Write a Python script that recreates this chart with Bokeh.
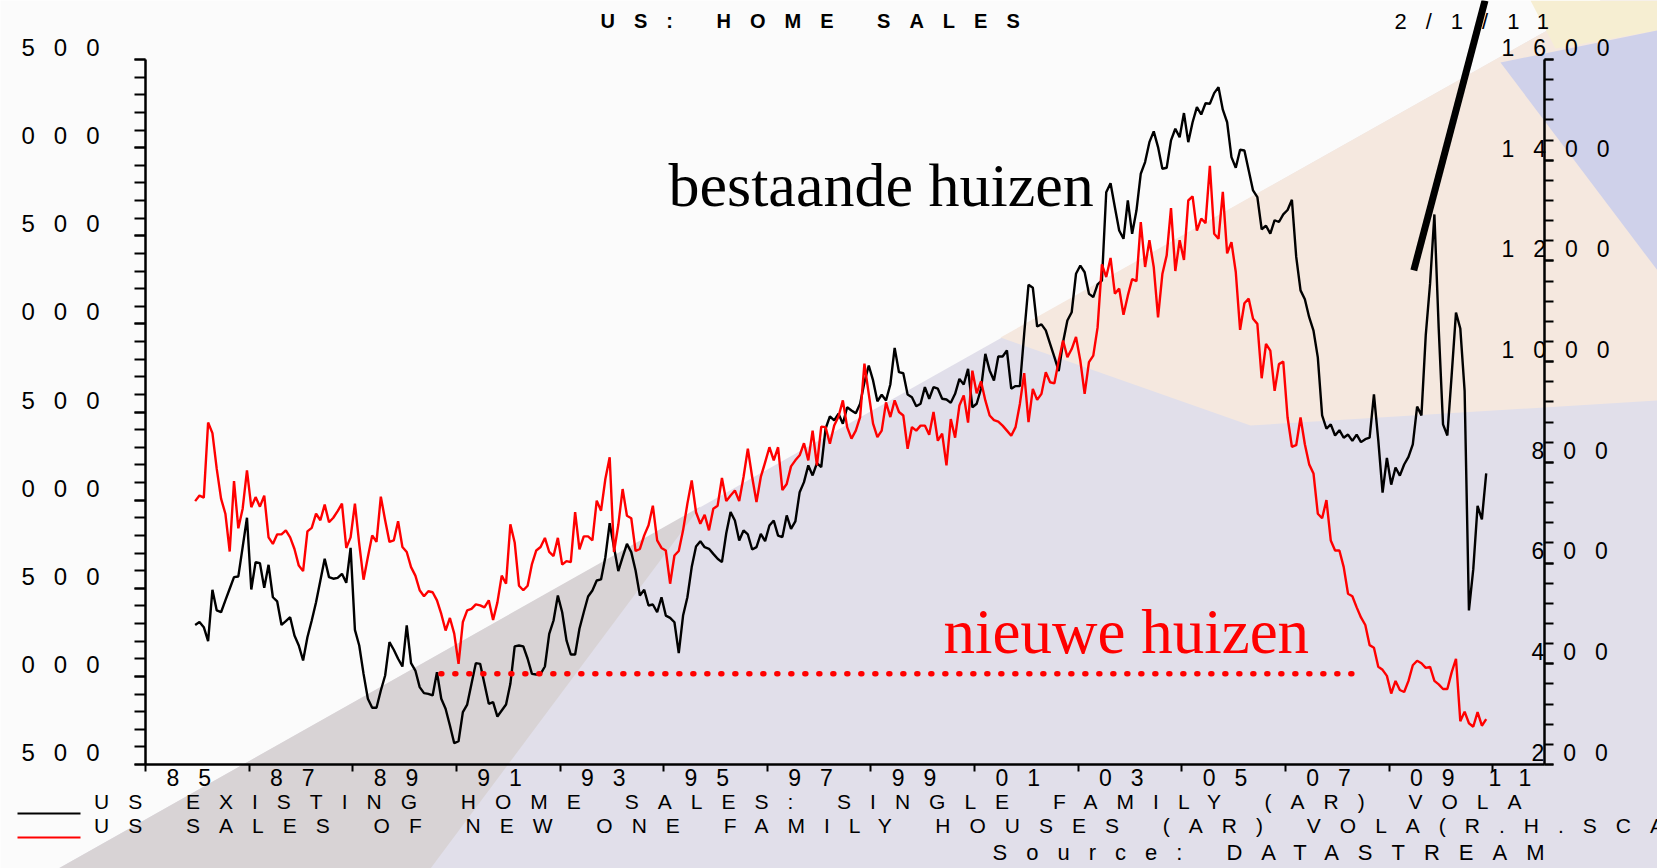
import numpy as np
from bokeh.plotting import figure
from bokeh.layouts import column
from bokeh.models import (Range1d, LinearAxis, FixedTicker, Label, Arrow,
                          PolyAnnotation, Legend, LegendItem)
from bokeh.embed import file_html
from bokeh.resources import INLINE

# ---------------- data (thousands, SAAR), monthly Dec 1985 .. Nov 2010 ----------------
FIRST_MONTH = 1985 + 11.5 / 12.0   # mid-December 1985

existing_single_family = [
    3292, 3308, 3279, 3200, 3491, 3374, 3364, 3431, 3497, 3563,
    3567, 3733, 3900, 3493, 3648, 3642, 3502, 3633, 3449, 3425,
    3292, 3313, 3336, 3232, 3175, 3090, 3222, 3317, 3421, 3544,
    3667, 3563, 3554, 3559, 3582, 3531, 3729, 3264, 3175, 3014,
    2873, 2822, 2822, 2920, 3005, 3194, 3151, 3100, 3056, 3289, 3075,
    3033, 2939, 2905, 2901, 2892, 3024, 2873, 2816, 2721, 2621,
    2632, 2797, 2840, 2958, 3075, 3071, 2958, 2844, 2854, 2772,
    2806, 2840, 2958, 3170, 3175, 3170, 3100, 3014, 3011, 3014,
    3056, 3241, 3317, 3459, 3364, 3204, 3124, 3124, 3270, 3364,
    3453, 3487, 3544, 3550, 3676, 3869, 3733, 3597, 3676, 3752,
    3705, 3601, 3459, 3491, 3402, 3408, 3364, 3449, 3345, 3332,
    3307, 3132, 3345, 3449, 3620, 3737, 3767, 3733, 3724, 3695,
    3667, 3648, 3812, 3932, 3884, 3771, 3828, 3805, 3720, 3733,
    3809, 3767, 3856, 3884, 3799, 3790, 3913, 3837, 3879, 4045,
    4102, 4197, 4140, 4210, 4187, 4405, 4475, 4452,
    4490, 4433, 4527, 4509, 4493, 4547, 4669, 4764, 4679, 4561,
    4598, 4565, 4656, 4864, 4726, 4720, 4599, 4584, 4533, 4547,
    4641, 4575, 4641, 4632, 4575, 4571, 4552, 4603, 4688, 4656,
    4745, 4527, 4547, 4632, 4830, 4736, 4679, 4815, 4815, 4849,
    4632, 4647, 4647, 4944, 5222, 5205, 4985, 4997, 4963,
    4887, 4811, 4732, 4896, 5019, 5066, 5284, 5331, 5293, 5171,
    5152, 5224, 5246, 5747, 5798, 5662, 5530, 5483, 5700, 5511,
    5643, 5852, 5918, 6031, 6092, 6003, 5880, 5886, 6041, 6107,
    6059, 6196, 6031, 6144, 6230, 6188, 6252, 6249, 6309, 6343,
    6215, 6144, 5946, 5886, 5988, 5984, 5870, 5757, 5719,
    5537, 5557, 5512, 5588, 5578, 5621, 5646, 5704, 5380, 5190,
    5140, 5038, 4962, 4810, 4481, 4405, 4430, 4367, 4397, 4354,
    4372, 4336, 4372, 4329, 4346, 4354, 4600, 4341, 4043, 4240,
    4088, 4185, 4139, 4202, 4245, 4316, 4531, 4481, 4936, 5228,
    5621, 4974, 4430, 4367, 4709, 5064, 4974, 4620, 3374, 3607,
    3967, 3891, 4152,
]

new_one_family = [
    723, 734, 730, 879, 858, 787, 728, 698, 623, 763,
    669, 708, 784, 711, 731, 712, 734, 651, 638, 657,
    657, 665, 651, 628, 595, 584, 663, 670, 698, 685,
    716, 681, 690, 703, 718, 630, 651, 718, 638, 567,
    612, 655, 642, 732, 685, 642, 645, 683, 632, 622, 592,
    575, 546, 534, 544, 542, 526, 499, 466, 491, 460,
    400, 483, 506, 509, 518, 516, 512, 526, 487, 522,
    575, 559, 677, 641, 555, 546, 555, 598, 625, 632,
    650, 622, 614, 650, 597, 604, 602, 701, 627, 653,
    653, 645, 724, 704, 767, 810, 622, 676, 747, 694,
    689, 624, 628, 655, 675, 714, 645, 630, 625, 559,
    615, 624, 665, 718, 764, 701, 678, 696, 665, 708,
    714, 769, 723, 734, 744, 723, 771, 827, 771, 721,
    771, 800, 830, 804, 830, 745, 757, 792, 804, 814,
    838, 804, 863, 794, 871, 870, 837, 873,
    891, 923, 870, 847, 863, 890, 996, 936, 877, 850,
    863, 919, 890, 923, 900, 893, 827, 870, 863, 873,
    873, 855, 900, 843, 857, 794, 886, 849, 913, 933,
    879, 982, 937, 961, 923, 893, 884, 881, 873, 863,
    853, 870, 916, 977, 880, 946, 924, 936, 979,
    959, 957, 1002, 1042, 1009, 1025, 1049, 1002, 936, 999,
    1012, 1068, 1193, 1168, 1206, 1135, 1145, 1093, 1131, 1164,
    1160, 1277, 1188, 1241, 1188, 1088, 1174, 1211, 1305, 1180,
    1241, 1202, 1320, 1328, 1260, 1284, 1275, 1389, 1254, 1244,
    1337, 1215, 1237, 1178, 1063, 1116, 1125, 1085,
    1075, 967, 1035, 1022, 942, 995, 1000, 889, 831, 834,
    889, 836, 796, 778, 698, 689, 725, 645, 625, 625,
    592, 539, 534, 512, 492, 477, 437, 432, 394, 388,
    376, 341, 366, 348, 344, 366, 397, 406, 401, 392,
    394, 366, 359, 350, 350, 383, 410, 286, 305, 282,
    275, 304, 277, 290,
]

# ---------------- axes definitions ----------------
X_AXIS = (1985.0, 2012.0)
LEFT_AXIS = (2500, 6500)
RIGHT_AXIS = (200, 1600)

LEFT_TICKS = [2500, 3000, 3500, 4000, 4500, 5000, 5500, 6000, 6500]
LEFT_LABEL_POS = [2568, 3068, 3568, 4068, 4568, 5068, 5568, 6068, 6568]   # labels sit above their ticks
LEFT_TICK_LABELS = ["500", "000", "500", "000", "500", "000", "500", "000", "500"]
LEFT_MINOR_STEP = 100
RIGHT_TICKS = [200, 400, 600, 800, 1000, 1200, 1400, 1600]
RIGHT_LABEL_POS_3 = [224, 424, 624, 824]
RIGHT_TICK_LABELS_3 = ["200", "400", "600", "800"]
RIGHT_LABEL_POS_4 = [1024, 1224, 1424, 1624]
RIGHT_TICK_LABELS_4 = ["1000", "1200", "1400", "1600"]
RIGHT_MINOR_STEP = 40
X_TICKS = [1985, 1987, 1989, 1991, 1993, 1995, 1997, 1999, 2001, 2003, 2005, 2007, 2009, 2011]
X_LABEL_POS = [1985.65, 1987.65, 1989.65, 1991.65, 1993.65, 1995.65, 1997.65,
               1999.65, 2001.65, 2003.65, 2005.65, 2007.65, 2009.65, 2011.15]
X_LABELS = ["85", "87", "89", "91", "93", "95", "97", "99", "01", "03", "05", "07", "09", "11"]

# dotted reference level (left scale) and its span
REF_LEVEL = 3015
REF_START, REF_END = 1990.70, 2008.31

TITLE = "US: HOME SALES"
DATE_TEXT = "2/1/11"
SOURCE = "Source: DATASTREAM"
LEGEND_LABELS = ["US EXISTING HOME SALES: SINGLE FAMILY (AR) VOLA",
                 "US SALES OF NEW ONE FAMILY HOUSES (AR) VOLA(R.H.SCALE)"]
ANNOT_EXISTING = "bestaande huizen"
ANNOT_NEW = "nieuwe huizen"

SANS = "Liberation Sans"
SERIF = "Liberation Serif"
RED = "#ff0000"
BG = "#fbfbfb"
TRACKING = "19px"      # the chart's wide-set lettering

# ---------------- geometry (canvas pixels) ----------------
W, H = 1657, 868
FL, FR, FT, FB = 145, 1544, 59, 764      # where the axes box sits on the canvas


def data_x(px):
    return X_AXIS[0] + (px - FL) / (FR - FL) * (X_AXIS[1] - X_AXIS[0])


def data_y(py):
    return LEFT_AXIS[0] + (FB - py) / (FB - FT) * (LEFT_AXIS[1] - LEFT_AXIS[0])


def data_yr(py):
    return RIGHT_AXIS[0] + (FB - py) / (FB - FT) * (RIGHT_AXIS[1] - RIGHT_AXIS[0])


months = FIRST_MONTH + np.arange(len(existing_single_family)) / 12.0

x_rng = Range1d(data_x(0), data_x(W))
y_rng = Range1d(data_y(H), data_y(0))
yr_rng = Range1d(data_yr(H), data_yr(0))

p = figure(width=W, height=H, output_backend="svg", toolbar_location=None, title=None,
           x_range=x_rng, y_range=y_rng,
           min_border_left=0, min_border_right=0, min_border_top=0, min_border_bottom=0,
           background_fill_color=BG, border_fill_color=BG)
p.outline_line_color = None
p.xgrid.visible = False
p.ygrid.visible = False
p.extra_y_ranges = {"right": yr_rng}

# ---------------- faded background decoration ----------------
BG_SHAPES = [
    ("#e1dfea", [(58, 868), (1600, 0), (1657, 0), (1657, 868)]),
    ("#f5e8df", [(1000, 337), (1600, 0), (1657, 0), (1657, 400), (1250, 425)]),
    ("#d8d3d5", [(58, 868), (700, 506), (430, 868)]),
    ("#f6eed2", [(1530, 0), (1657, 0), (1657, 30), (1555, 48)]),
    ("#cfd1ea", [(1500, 62), (1657, 30), (1657, 270)]),
]
for color, pts in BG_SHAPES:
    p.add_layout(PolyAnnotation(xs=[data_x(a) for a, b in pts], ys=[data_y(b) for a, b in pts],
                                fill_color=color, fill_alpha=1.0, line_alpha=0, level="underlay"))

# ---------------- series ----------------
r_exist = p.line(months, existing_single_family, line_color="black", line_width=2.4)
r_new = p.line(months, new_one_family, line_color=RED, line_width=2.4, y_range_name="right")

p.line([REF_START, REF_END], [REF_LEVEL, REF_LEVEL], line_color=RED, line_width=5.5,
       line_dash="1 13", line_cap="round")

# ---------------- axes (fixed on the axes box) ----------------
def style_ticks(ax, out):
    ax.axis_line_width = 2.5
    ax.major_tick_line_width = 2
    ax.minor_tick_line_width = 2
    ax.major_tick_out = out
    ax.minor_tick_out = out
    ax.major_tick_in = 0
    ax.minor_tick_in = 0
    ax.major_label_text_font_size = "1px"
    ax.major_label_standoff = 0


def label_axis(ticks, labels, standoff, size, **kw):
    return LinearAxis(ticker=FixedTicker(ticks=ticks, minor_ticks=[]),
                      major_label_overrides=dict(zip(ticks, labels)),
                      axis_line_color=None, major_tick_line_color=None, minor_tick_line_color=None,
                      major_tick_out=0, major_tick_in=0, minor_tick_out=0, minor_tick_in=0,
                      major_label_standoff=standoff, major_label_text_font=SANS,
                      major_label_text_font_size=size, major_label_text_color="black", **kw)


yl = p.yaxis[0]
yl.ticker = FixedTicker(ticks=LEFT_TICKS,
                        minor_ticks=list(range(LEFT_AXIS[0], LEFT_AXIS[1] + 1, LEFT_MINOR_STEP)))
yl.major_label_overrides = {t: "" for t in LEFT_TICKS}
yl.fixed_location = X_AXIS[0]
yl.bounds = LEFT_AXIS
style_ticks(yl, 11)

yr = LinearAxis(y_range_name="right",
                ticker=FixedTicker(ticks=RIGHT_TICKS,
                                   minor_ticks=list(range(RIGHT_AXIS[0], RIGHT_AXIS[1] + 1, RIGHT_MINOR_STEP))))
yr.major_label_overrides = {t: "" for t in RIGHT_TICKS}
yr.fixed_location = X_AXIS[1]
yr.bounds = RIGHT_AXIS
style_ticks(yr, 9)
p.add_layout(yr, "right")

xb = p.xaxis[0]
xb.ticker = FixedTicker(ticks=X_TICKS, minor_ticks=[])
xb.major_label_overrides = {t: "" for t in X_TICKS}
xb.fixed_location = LEFT_AXIS[0]
xb.bounds = X_AXIS
style_ticks(xb, 7)

yl_lab = label_axis(LEFT_LABEL_POS, LEFT_TICK_LABELS, 84, "24px")
yl_lab.fixed_location = X_AXIS[0]
p.add_layout(yl_lab, "left")

# right-hand labels are right-aligned: 3-digit and 4-digit labels start at different places
yr_lab4 = label_axis(RIGHT_LABEL_POS_4, RIGHT_TICK_LABELS_4, -43, "23px", y_range_name="right")
yr_lab4.fixed_location = X_AXIS[1]
p.add_layout(yr_lab4, "right")
yr_lab3 = label_axis(RIGHT_LABEL_POS_3, RIGHT_TICK_LABELS_3, -13, "23px", y_range_name="right")
yr_lab3.fixed_location = X_AXIS[1]
p.add_layout(yr_lab3, "right")

xl_lab = label_axis(X_LABEL_POS, X_LABELS, 4, "23px")
xl_lab.fixed_location = LEFT_AXIS[0]
p.add_layout(xl_lab, "below")

# ---------------- texts & annotations ----------------
p.add_layout(Label(x=data_x(600), y=data_y(20), text=TITLE, text_font=SANS,
                   text_font_style="bold", text_font_size="20px",
                   text_align="left", text_baseline="middle", text_color="black"))
p.add_layout(Label(x=data_x(1394), y=data_y(21), text=DATE_TEXT, text_font=SANS,
                   text_font_size="22px", text_align="left", text_baseline="middle",
                   text_color="black"))
p.add_layout(Label(x=data_x(992), y=data_y(852), text=SOURCE, text_font=SANS,
                   text_font_size="22px", text_align="left", text_baseline="alphabetic",
                   text_color="black"))

p.add_layout(Arrow(end=None, x_start=data_x(1413.3), y_start=data_y(269.8),
                   x_end=data_x(1484.5), y_end=data_y(0), line_width=7, line_color="black"))

# legend: texts from the Legend model, key lines drawn just below each text row
legend = Legend(items=[LegendItem(label=LEGEND_LABELS[0], renderers=[r_exist]),
                       LegendItem(label=LEGEND_LABELS[1], renderers=[r_new])],
                location=(17, 30), orientation="vertical",
                glyph_width=0, glyph_height=24, label_height=24, label_standoff=77,
                spacing=0, padding=0, margin=0,
                border_line_color=None, background_fill_alpha=0,
                label_text_font=SANS, label_text_font_size="21px",
                label_text_color="black")
p.add_layout(legend)
for key_color, key_y in (("black", 813), (RED, 837)):
    p.add_layout(Arrow(end=None, x_start=data_x(17), y_start=data_y(key_y),
                       x_end=data_x(80), y_end=data_y(key_y), line_width=2, line_color=key_color))

p.styles = {"letter-spacing": TRACKING}

# ---------------- serif call-outs (normal letter spacing, laid over the chart) ----------------
q = figure(width=W, height=H, output_backend="svg", toolbar_location=None, title=None,
           x_range=x_rng, y_range=y_rng, x_axis_type=None, y_axis_type=None,
           min_border_left=0, min_border_right=0, min_border_top=0, min_border_bottom=0,
           background_fill_alpha=0, border_fill_alpha=0)
q.outline_line_color = None
q.add_layout(Label(x=data_x(668), y=data_y(184), text=ANNOT_EXISTING, text_font=SERIF,
                   text_font_size="62px", text_align="left", text_baseline="alphabetic",
                   text_color="black"))
q.add_layout(Label(x=data_x(943), y=data_y(631.5), text=ANNOT_NEW, text_font=SERIF,
                   text_font_size="63px", text_align="left", text_baseline="alphabetic",
                   text_color=RED))
q.styles = {"position": "absolute", "left": "0px", "top": "0px", "letter-spacing": "normal"}

root = column(p, q)
root.styles = {"position": "relative"}

open("out.html", "w").write(file_html(root, INLINE))
